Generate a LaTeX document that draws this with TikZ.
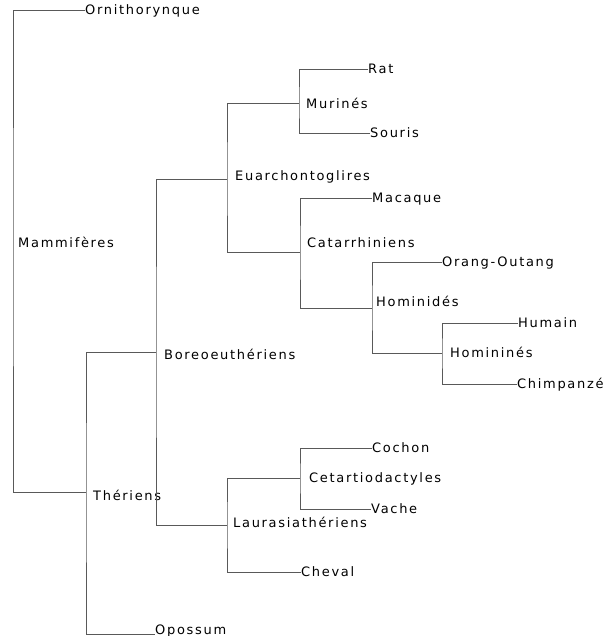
\documentclass[tikz,border=0pt]{standalone}
\usepackage{fontspec}
\newfontfamily\treefont{DejaVu Sans}[LetterSpace=13]
\usetikzlibrary{arrows}
\tikzstyle{leaf}=[anchor=west,inner sep=0pt,text height=9pt,text depth=1pt,font=\treefont\fontsize{13}{15}\selectfont]
\tikzstyle{clade}=[leaf]
\tikzstyle{branch}=[draw,black!65,line width=1pt]

\begin{document}
\begin{tikzpicture}[x=1pt,y=-1pt]
    \useasboundingbox (0,0) rectangle (610,636);

    % especes
    \foreach \pos/\name/\txt in {{(85,11)/orni/Ornithorynque}, {(368,70)/rat/Rat}, {(370,134)/souris/Souris},
        {(372,199)/macaque/Macaque}, {(442,262)/orang/Orang-Outang}, {(518,323)/humain/Humain},
        {(517,384)/chimp/Chimpanzé}, {(372,448)/cochon/Cochon}, {(371,509)/vache/Vache},
        {(301,572)/cheval/Cheval}}
        \node[leaf] (\name) at \pos {\txt};
    \node[leaf, anchor=base west] (opossum) at (155,634) {Opossum};

    % noeuds internes
    \foreach \pos/\name in {{(13,243)/mam}, {(86,492)/ther}, {(156,352)/boreo}, {(227,180)/euarch},
        {(227,525)/laur}, {(299,104)/murin}, {(300,252)/catarr}, {(372,308)/homd},
        {(442,353)/homn}, {(300,478)/cetar}}
        \node[coordinate] (\name) at \pos {};

    \foreach \pos/\name/\txt in {{(18,243)/mam/Mammifères}, {(93,496)/ther/Thériens}, {(164,355)/boreo/Boreoeuthériens},
        {(235,177)/euarch/Euarchontoglires}, {(233,523)/laur/Laurasiathériens}, {(306,105)/murin/Murinés},
        {(307,243)/catarr/Catarrhiniens}, {(376,302)/homd/Hominidés}, {(450,353)/homn/Homininés},
        {(309,478)/cetar/Cetartiodactyles}}
        \node[clade] (\name-lbl) at \pos {\txt};

    \foreach \c/\up/\down in {mam/orni.west/ther, ther/boreo/opossum.base west, boreo/euarch/laur,
        euarch/murin/catarr, murin/rat.west/souris.west, catarr/macaque.west/homd,
        homd/orang.west/homn, homn/humain.west/chimp.west, laur/cetar/cheval.west,
        cetar/cochon.west/vache.west}
        \path[branch] (\up) -| (\c) |- (\down);

\end{tikzpicture}
\end{document}
